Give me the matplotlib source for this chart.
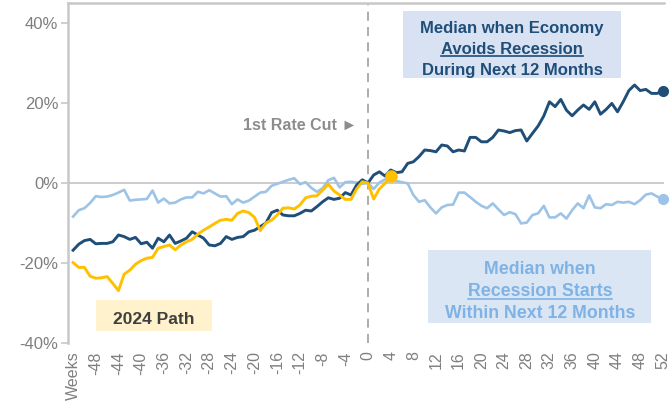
import matplotlib
matplotlib.use('Agg')
import matplotlib.pyplot as plt
from matplotlib.patches import Rectangle
from matplotlib.lines import Line2D
import numpy as np

W, H = 671, 405

# weekly returns (%) around the first rate cut, week -52 .. 52
weeks = np.arange(-52, 53)

avoid_recession = [
    -16.8, -15.3, -14.4, -14.1, -15.2, -15.1, -15.1, -14.7, -13.0, -13.4, -14.1, -13.6, -15.2,
    -14.8, -16.3, -13.8, -14.7, -13.0, -15.1, -14.5, -13.8, -12.2, -13.0, -13.8, -15.5, -15.7,
    -15.1, -13.4, -14.1, -13.6, -13.4, -12.2, -11.8, -10.9, -10.0, -7.4, -6.8, -8.0, -8.2,
    -8.2, -7.6, -6.8, -7.0, -5.9, -4.7, -3.7, -4.1, -3.8, -2.4, -3.0, -0.5, 0.8,
    0.0, 2.0, 2.8, 1.75, 3.25, 2.6, 2.8, 4.9, 5.3, 6.6, 8.25, 8.1, 7.8, 9.5, 9.25, 7.8, 8.25,
    8.0, 11.4, 11.4, 10.3, 10.3, 11.4, 13.25, 13.0, 12.6, 13.1, 13.25, 10.5, 12.4, 14.25,
    16.75, 20.3, 19.1, 20.9, 18.2, 16.8, 18.25, 19.5, 18.4, 20.3, 17.2, 18.4, 19.9, 17.8,
    20.3, 23.1, 24.5, 23.1, 23.4, 22.4, 22.4, 23.1,
]

recession_starts = [
    -8.4, -6.8, -6.3, -5.0, -3.3, -3.5, -3.4, -3.0, -2.4, -1.7, -4.4, -4.2, -4.1, -4.0, -1.9,
    -4.9, -3.9, -5.1, -4.9, -4.1, -3.6, -3.6, -2.2, -2.6, -1.8, -2.6, -3.4, -3.3, -5.3, -4.1,
    -4.9, -4.4, -3.4, -2.4, -2.2, -0.7, -0.2, 0.3, 0.8, 1.2, -0.3, 0.2, -1.2, -2.2, -1.3,
    0.7, 1.3, -1.1, 0.2, 0.3, 0.1, -0.2,
    0.0, -1.5, 0.1, 0.9, 0.9, 0.5, 0.2, -0.1, -3.0, -4.7, -4.3, -6.1, -7.6, -6.1, -5.5, -5.4,
    -2.4, -2.4, -3.5, -4.7, -5.7, -6.3, -5.1, -6.6, -8.0, -7.3, -7.8, -10.1, -9.9, -8.0,
    -7.6, -5.7, -8.6, -8.6, -7.6, -8.9, -6.8, -5.1, -6.3, -3.1, -6.1, -6.3, -5.3, -5.5,
    -4.7, -4.9, -4.7, -5.3, -4.3, -2.9, -2.6, -3.4, -4.1,
]

path_2024 = [
    -19.9, -21.1, -21.1, -23.3, -23.8, -23.7, -23.4, -25.1, -26.9, -22.8, -21.8, -20.3, -19.4,
    -18.8, -18.6, -16.3, -15.9, -15.5, -16.7, -15.5, -14.7, -14.1, -12.8, -11.8, -11.0, -10.1,
    -9.3, -9.1, -9.3, -7.6, -7.0, -7.4, -8.6, -11.9, -10.0, -9.3, -8.0, -6.3, -6.2, -6.5,
    -5.5, -3.7, -3.3, -3.2, -1.8, -0.3, -2.0, -3.0, -4.1, -4.1, -1.5, 0.3,
    0.0, -4.0, -1.5, -0.1, 1.8,
]

tick_weeks = np.arange(-52, 53, 4)
tick_labels = ['Weeks'] + [str(w) for w in tick_weeks[1:]]
y_ticks = [-40, -20, 0, 20, 40]
y_labels = ['-40%', '-20%', '0%', '20%', '40%']

navy = '#1f4e79'
light = '#9dc3e6'
gold = '#ffc000'
grey = '#7f7f7f'
rule = '#c8c8c8'

plt.rcParams['font.family'] = ['Liberation Sans', 'DejaVu Sans']

fig = plt.figure(figsize=(W / 100, H / 100), dpi=100)
ax = fig.add_axes([68 / W, 1 - 343 / H, (664 - 68) / W, (343 - 3) / H])

ax.axhline(0, color=rule, lw=1.3, zorder=1)
ax.axvline(0, color='#a6a6a6', lw=1.3, ls=(0, (5, 3.5)), zorder=1)

ax.plot(weeks, recession_starts, color=light, lw=1.9, zorder=3)
ax.plot(weeks, avoid_recession, color=navy, lw=2.1, zorder=4)
wk24 = weeks[:len(path_2024)]
ax.plot(wk24, path_2024, color=gold, lw=2.1, zorder=5)

ax.plot(weeks[-1], recession_starts[-1], 'o', color=light, ms=7, zorder=6, clip_on=False)
ax.plot(weeks[-1], avoid_recession[-1], 'o', color=navy, ms=7, zorder=6, clip_on=False)
ax.plot(wk24[-1], path_2024[-1], 'o', color=gold, ms=8, zorder=6, clip_on=False)

ax.set_xlim(-52.9, 52.2)
ax.set_ylim(-40, 45)
ax.set_xticks(tick_weeks)
ax.set_xticklabels(tick_labels, rotation=90, color=grey, fontsize=11.5)
ax.set_yticks(y_ticks)
ax.set_yticklabels(y_labels, color=grey, fontsize=12)
ax.tick_params(axis='x', length=0, pad=6)
ax.tick_params(axis='y', length=5, width=1.2, color=rule, pad=2)

for side in ['right', 'bottom']:
    ax.spines[side].set_visible(False)
for side in ['left', 'top']:
    ax.spines[side].set_color(rule)
    ax.spines[side].set_linewidth(1.8)


def fx(px):
    return px / W


def fy(py):
    return 1 - py / H


def box(x0, y0, x1, y1, color):
    fig.patches.append(Rectangle((fx(x0), fy(y1)), fx(x1) - fx(x0), fy(y0) - fy(y1),
                                 transform=fig.transFigure, facecolor=color,
                                 edgecolor='none', zorder=0.5))


box(403, 11, 621, 78, '#d9e2f3')
box(428, 250, 651, 323, '#dae6f4')
box(96, 300, 212, 331, '#fff2cc')

under = []
t1 = [
    fig.text(fx(512), fy(29), 'Median when Economy', color=navy, fontsize=12,
             fontweight='bold', ha='center', va='center'),
    fig.text(fx(512), fy(49.5), 'Avoids Recession', color=navy, fontsize=12,
             fontweight='bold', ha='center', va='center'),
    fig.text(fx(512), fy(70), 'During Next 12 Months', color=navy, fontsize=12,
             fontweight='bold', ha='center', va='center'),
]
under.append((t1[1], navy))
t2 = [
    fig.text(fx(540), fy(270), 'Median when', color='#7fb2e5', fontsize=12.8,
             fontweight='bold', ha='center', va='center'),
    fig.text(fx(540), fy(291.5), 'Recession Starts', color='#7fb2e5', fontsize=12.8,
             fontweight='bold', ha='center', va='center'),
    fig.text(fx(540), fy(313), 'Within Next 12 Months', color='#7fb2e5', fontsize=12.8,
             fontweight='bold', ha='center', va='center'),
]
under.append((t2[1], '#7fb2e5'))

fig.text(fx(154), fy(320), '2024 Path', color='#3f3f3f', fontsize=12.5,
         fontweight='bold', ha='center', va='center')
fig.text(fx(357), fy(125), '1st Rate Cut \u25ba', color='#8c8c8c', fontsize=11.5,
         fontweight='bold', ha='right', va='center')

# underline the middle line of each label box
fig.canvas.draw()
r = fig.canvas.get_renderer()
for t, c in under:
    bb = t.get_window_extent(renderer=r)
    yl = bb.y0 + 1
    fig.add_artist(Line2D([bb.x0 / W, bb.x1 / W], [yl / H, yl / H], color=c, lw=1.2,
                          transform=fig.transFigure))

fig.savefig('out.png', dpi=100)
